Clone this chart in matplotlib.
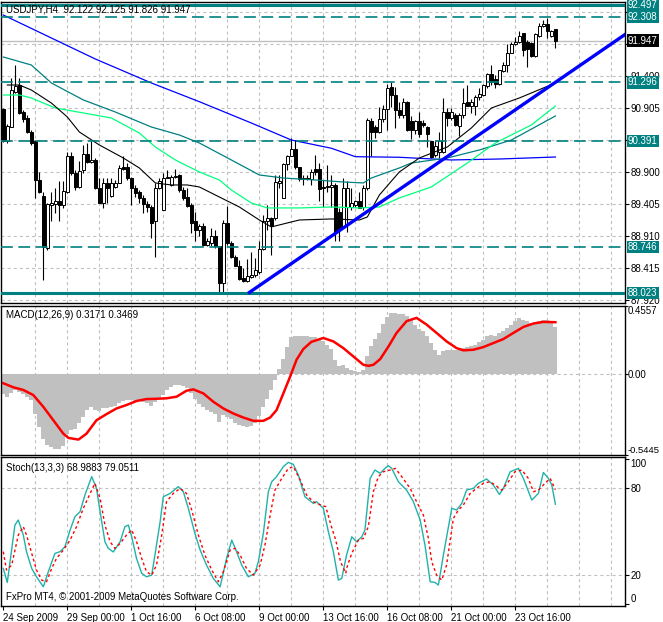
import numpy as np
import matplotlib.pyplot as plt

plt.rcParams['font.family'] = ['Liberation Sans', 'DejaVu Sans']
plt.rcParams['font.size'] = 7
plt.rcParams['lines.scale_dashes'] = False

W, H = 663, 622

# USDJPY H4 candles
bar_open = [90.88, 90.38, 90.61, 91.15, 91.26, 90.84, 90.75, 90.52, 90.38, 89.78,
            89.53, 88.72, 89.40, 89.41, 89.45, 89.40, 89.60, 90.16, 89.89, 89.68,
            89.93, 90.19, 90.06, 90.09, 89.65, 89.43, 89.73, 89.53, 89.67, 89.74,
            89.99, 89.99, 89.81, 89.66, 89.59, 89.51, 89.41, 89.36, 89.14, 89.65,
            89.31, 89.82, 89.71, 89.83, 89.86, 89.63, 89.52, 89.40, 89.14, 89.01,
            89.06, 88.77, 88.80, 88.91, 88.75, 88.19, 89.11, 88.80, 88.58, 88.45,
            88.26, 88.22, 88.27, 88.31, 88.36, 88.71, 89.15, 89.19, 89.19, 89.74,
            89.51, 90.03, 90.16, 90.26, 89.98, 89.79, 89.82, 89.79, 89.96, 89.96,
            89.68, 89.67, 89.68, 89.71, 89.29, 89.06, 89.37, 89.37, 89.40, 89.45,
            89.36, 89.65, 90.70, 90.61, 90.53, 90.73, 90.88, 91.23, 91.10, 90.87,
            90.79, 90.99, 90.70, 90.56, 90.70, 90.67, 90.60, 90.38, 90.17, 90.22,
            90.22, 90.84, 90.74, 90.79, 90.62, 90.79, 91.00, 90.93, 90.93, 91.07,
            91.10, 91.24, 91.43, 91.35, 91.28, 91.48, 91.57, 91.76, 91.90, 91.92,
            92.06, 91.93, 91.91, 91.70, 92.02, 92.17, 92.20, 92.02, 92.122]
bar_high = [90.90, 90.65, 91.36, 91.57, 91.36, 90.87, 90.79, 90.56, 90.40, 89.91,
            89.60, 89.42, 89.60, 89.65, 89.76, 89.76, 90.21, 90.22, 89.94, 90.07,
            90.33, 90.35, 90.39, 90.12, 89.81, 89.81, 89.81, 89.81, 89.78, 90.02,
            90.15, 90.04, 89.83, 89.71, 89.63, 89.55, 89.45, 89.40, 89.73, 89.81,
            89.89, 89.94, 89.86, 89.96, 89.87, 89.68, 89.65, 89.42, 89.29, 89.10,
            89.11, 88.88, 89.03, 89.01, 88.76, 89.16, 89.38, 88.83, 88.62, 88.54,
            88.41, 88.55, 88.67, 88.57, 88.83, 89.24, 89.39, 89.21, 89.86, 89.86,
            90.04, 90.17, 90.43, 90.40, 89.99, 89.86, 89.86, 89.96, 90.17, 90.04,
            89.78, 90.02, 89.86, 89.73, 89.34, 89.81, 89.76, 89.65, 89.47, 89.60,
            89.71, 90.74, 90.74, 90.64, 90.92, 90.95, 91.28, 91.31, 91.23, 91.00,
            91.05, 91.01, 90.78, 90.72, 90.84, 90.71, 90.62, 90.38, 90.38, 90.53,
            91.05, 90.90, 90.90, 90.82, 90.82, 91.21, 91.26, 91.04, 91.10, 91.21,
            91.28, 91.44, 91.57, 91.41, 91.49, 91.62, 91.90, 91.93, 92.01, 92.09,
            92.06, 91.96, 91.93, 92.06, 92.22, 92.27, 92.29, 92.11, 92.125]
bar_low = [90.37, 90.36, 90.60, 91.13, 90.81, 90.69, 90.51, 90.33, 89.50, 89.58,
           88.23, 88.70, 89.14, 89.27, 89.14, 89.34, 89.58, 89.86, 89.63, 89.65,
           89.89, 90.04, 90.04, 89.64, 89.42, 89.34, 89.42, 89.52, 89.65, 89.73,
           89.94, 89.78, 89.40, 89.52, 89.42, 89.27, 89.29, 88.88, 88.58, 89.64,
           89.31, 89.81, 89.69, 89.81, 89.60, 89.47, 89.37, 88.96, 88.83, 88.92,
           88.75, 88.76, 88.75, 88.72, 88.05, 88.023, 88.77, 88.57, 88.44, 88.23,
           88.20, 88.20, 88.26, 88.28, 88.33, 88.70, 89.01, 88.62, 89.16, 89.65,
           89.50, 89.94, 90.15, 89.96, 89.76, 89.71, 89.78, 89.71, 89.86, 89.45,
           89.37, 89.60, 89.37, 88.83, 88.83, 89.03, 88.98, 89.32, 89.37, 89.34,
           89.32, 89.63, 90.15, 90.43, 90.51, 90.69, 90.56, 90.92, 90.59, 90.75,
           90.74, 90.55, 90.42, 90.50, 90.45, 90.60, 90.30, 90.12, 90.14, 90.12,
           90.20, 90.62, 90.71, 90.62, 90.46, 90.74, 90.93, 90.82, 90.79, 91.03,
           91.08, 91.21, 91.26, 91.21, 91.26, 91.46, 91.46, 91.75, 91.88, 91.91,
           91.70, 91.54, 91.69, 91.69, 92.01, 92.16, 91.98, 92.01, 91.826]
bar_close = [90.38, 90.62, 91.18, 91.24, 90.82, 90.73, 90.52, 90.35, 89.78, 89.60,
             88.74, 89.41, 89.42, 89.45, 89.40, 89.61, 90.15, 89.89, 89.68, 89.92,
             90.19, 90.06, 90.09, 89.65, 89.43, 89.73, 89.66, 89.73, 89.74, 89.97,
             89.96, 89.81, 89.66, 89.58, 89.51, 89.41, 89.36, 89.12, 89.65, 89.76,
             89.81, 89.83, 89.83, 89.84, 89.63, 89.51, 89.38, 89.12, 89.01, 89.06,
             88.77, 88.83, 88.91, 88.75, 88.19, 89.11, 88.80, 88.58, 88.45, 88.24,
             88.22, 88.29, 88.31, 88.39, 88.71, 89.15, 89.19, 89.06, 89.75, 89.76,
             90.03, 90.16, 90.26, 89.98, 89.79, 89.82, 89.79, 89.91, 89.90, 89.64,
             89.65, 89.69, 89.71, 88.98, 89.01, 89.65, 89.65, 89.42, 89.45, 89.34,
             89.65, 90.71, 90.53, 90.52, 90.73, 90.88, 91.21, 91.10, 90.87, 90.79,
             90.99, 90.56, 90.56, 90.70, 90.50, 90.64, 90.50, 90.14, 90.31, 90.38,
             90.84, 90.74, 90.84, 90.64, 90.79, 90.98, 90.93, 91.00, 91.07, 91.12,
             91.26, 91.43, 91.31, 91.28, 91.49, 91.57, 91.76, 91.89, 91.93, 92.02,
             91.80, 91.81, 91.70, 92.05, 92.17, 92.21, 92.09, 92.09, 91.947]

# moving averages (bar index, price)
ma_blue_idx = [0, 23, 37, 49, 62, 72, 82, 88, 99, 112, 124, 138]
ma_blue_val = [92.344, 91.661, 91.289, 90.998, 90.667, 90.403, 90.275, 90.144, 90.135, 90.093, 90.108, 90.139]
ma_teal_idx = [0, 7, 12, 20, 28, 37, 44, 49, 57, 64, 70, 78, 85, 90, 92, 99, 102, 111, 119, 127, 138]
ma_teal_val = [91.692, 91.568, 91.289, 91.025, 90.838, 90.605, 90.481, 90.357, 90.093, 89.860, 89.813,
               89.782, 89.751, 89.736, 89.813, 89.969, 90.046, 90.124, 90.248, 90.403, 90.776]
ma_green_idx = [0, 4, 7, 13, 20, 27, 34, 38, 43, 49, 54, 57, 62, 66, 74, 82, 89, 94, 99, 107, 116, 123, 132, 138]
ma_green_val = [91.102, 91.102, 91.056, 90.900, 90.823, 90.745, 90.512, 90.295, 90.093, 89.907, 89.782, 89.627,
                89.425, 89.348, 89.348, 89.363, 89.348, 89.363, 89.503, 89.674, 90.046, 90.357, 90.636, 90.931]
ma_black_idx = [1, 4, 7, 12, 16, 19, 24, 30, 34, 38, 42, 46, 49, 54, 59, 64, 67, 71, 74, 82, 89, 91, 94, 99,
                104, 111, 117, 122, 129, 138]
ma_black_val = [91.257, 91.257, 91.180, 90.978, 90.761, 90.528, 90.326, 90.124, 89.969, 89.736, 89.705, 89.705,
                89.674, 89.518, 89.363, 89.161, 89.053, 89.115, 89.161, 89.177, 89.161, 89.208, 89.549, 89.907,
                90.124, 90.295, 90.590, 90.900, 91.056, 91.289]

# trend line anchors (bar index, price)
trend_idx = [61.2, 155.7]
trend_val = [88.023, 92.054]

levels_solid = [92.497, 88.023]
levels_dashed = [92.308, 91.296, 90.391, 88.746]
bid = 91.947

price_ticks = [87.920, 88.415, 88.910, 89.405, 89.900, 90.400, 90.905, 91.400, 91.900, 92.390]
price_labels = ['87.920', '88.415', '88.910', '89.405', '89.900', '', '90.905', '91.400', '', '']

# MACD(12,26,9) histogram per bar
macd_main = [-0.137, -0.158, -0.131, -0.108, -0.119, -0.135, -0.153, -0.176, -0.266, -0.356,
             -0.435, -0.480, -0.491, -0.502, -0.502, -0.486, -0.401, -0.378, -0.367, -0.333,
             -0.288, -0.243, -0.225, -0.243, -0.248, -0.232, -0.232, -0.221, -0.216, -0.198,
             -0.180, -0.176, -0.176, -0.180, -0.180, -0.187, -0.194, -0.216, -0.187, -0.171,
             -0.142, -0.108, -0.090, -0.077, -0.074, -0.081, -0.097, -0.131, -0.171, -0.203,
             -0.221, -0.243, -0.255, -0.266, -0.322, -0.277, -0.288, -0.300, -0.329, -0.345,
             -0.351, -0.356, -0.351, -0.333, -0.284, -0.225, -0.171, -0.108, -0.041, 0.032,
             0.099, 0.180, 0.248, 0.257, 0.252, 0.252, 0.252, 0.248, 0.248, 0.230,
             0.218, 0.196, 0.167, 0.095, 0.054, 0.059, 0.038, 0.027, 0.020, 0.016,
             0.027, 0.122, 0.185, 0.234, 0.275, 0.338, 0.381, 0.410, 0.410, 0.405,
             0.399, 0.387, 0.365, 0.331, 0.302, 0.286, 0.252, 0.207, 0.162, 0.128,
             0.151, 0.158, 0.162, 0.162, 0.158, 0.173, 0.180, 0.185, 0.196, 0.212,
             0.230, 0.252, 0.264, 0.257, 0.275, 0.286, 0.309, 0.331, 0.358, 0.372,
             0.365, 0.354, 0.342, 0.347, 0.354, 0.365, 0.360, 0.354, 0.3171]
macd_sig_idx = [0, 2.5, 5, 7.5, 10, 12.5, 15, 16.3, 18.8, 20.8, 23.3, 25.8, 28.3, 30.8, 33.3, 35.8,
                38.3, 40.8, 43.3, 45.8, 47.5, 50, 52.5, 55, 57.5, 60, 62.5, 65, 66.7, 68.3, 70,
                71.7, 73.3, 75, 77, 80, 82.5, 85, 87.5, 90, 91.3, 92.5, 94.2, 96.3, 98.3, 100.8,
                103.3, 105.8, 108.3, 110.8, 113.3, 115, 117.5, 120, 122.5, 125, 127.5, 130,
                132.5, 135, 138]
macd_sig_val = [-0.063, -0.090, -0.108, -0.142, -0.221, -0.311, -0.401, -0.430, -0.441, -0.401,
                -0.311, -0.270, -0.232, -0.209, -0.182, -0.169, -0.167, -0.164, -0.153, -0.113,
                -0.104, -0.131, -0.187, -0.232, -0.266, -0.293, -0.315, -0.315, -0.293, -0.243,
                -0.131, -0.018, 0.095, 0.167, 0.215, 0.241, 0.218, 0.173, 0.117, 0.061, 0.054,
                0.061, 0.099, 0.185, 0.275, 0.354, 0.376, 0.331, 0.275, 0.218, 0.173, 0.158,
                0.162, 0.180, 0.207, 0.234, 0.275, 0.315, 0.338, 0.349, 0.3469]

# Stoch(13,3,3)
stoch_main_idx = [0, 1, 2.9, 3.75, 5, 5.8, 7.1, 8.3, 10, 11.25, 12.9, 14.2, 15.4, 16.7, 17.9, 19.2, 20.4,
                  22.1, 23.3, 24.2, 25.4, 26.25, 27.5, 29.2, 30.4, 31.25, 32.1, 33.3, 34.6, 35.8, 37.1,
                  37.9, 39.2, 40, 41.7, 43.75, 45, 46.25, 47.9, 49.2, 50.8, 52.5, 54.2, 55.8, 57.1,
                  58.3, 59.6, 61.25, 62.9, 63.75, 65, 66.25, 67.1, 68.3, 70, 71.25, 72.5, 73.75, 75.4,
                  77.5, 78.3, 80, 81.25, 82.5, 83.75, 84.6, 85.8, 87.1, 88.3, 89.6, 90.4, 91.7, 92.9,
                  94.2, 95.4, 96.25, 97.1, 98.75, 100.8, 102.5, 104.2, 105.4, 106.7, 107.9, 108.75,
                  110, 112.1, 113.3, 114.6, 115.8, 117.5, 118.75, 120.8, 122.5, 124, 125, 126.7,
                  128.75, 130, 132.1, 133.75, 135, 136.25, 137.1, 138]
stoch_main_val = [24.6, 14.9, 54.6, 58.1, 47.7, 36.2, 24.6, 18.8, 11.9, 22.3, 35.0, 36.2, 39.6, 51.2, 60.4,
                  63.9, 75.4, 88.1, 80.0, 63.9, 43.1, 38.5, 36.0, 43.1, 53.5, 54.6, 46.5, 31.5, 21.2,
                  18.8, 20.0, 33.8, 56.9, 74.2, 76.5, 81.2, 77.7, 66.2, 48.8, 37.3, 26.9, 17.7, 11.9,
                  31.5, 44.2, 36.2, 26.9, 18.8, 21.2, 29.2, 48.8, 77.7, 84.6, 88.1, 95.0, 98.0, 96.6,
                  89.2, 74.2, 69.6, 70.8, 66.2, 50.0, 36.2, 16.5, 17.7, 33.8, 46.5, 43.1, 46.5, 51.2,
                  86.9, 92.7, 90.4, 93.8, 95.7, 93.8, 84.6, 78.8, 70.8, 58.1, 40.8, 15.4, 14.9, 13.1,
                  33.8, 66.2, 65.0, 69.6, 78.8, 80.0, 83.5, 86.5, 82.3, 75.8, 80.0, 91.5, 93.8, 86.9,
                  71.9, 76.5, 91.0, 86.9, 82.3, 68.99]
stoch_sig_idx = [0, 0.8, 2.1, 3.75, 5, 5.8, 7.1, 8.3, 9.6, 10.8, 12.1, 13.3, 15, 16.7, 18.3, 20, 21.7,
                 22.9, 24.2, 25.4, 26.7, 27.9, 29.2, 30.8, 32.1, 33.3, 34.6, 35.8, 37.1, 38.3, 39.6,
                 40.8, 42.5, 44.2, 45.8, 47.1, 48.75, 50.4, 52.1, 53.75, 55, 56.7, 57.9, 59.2, 60.8,
                 62.5, 64.2, 65.4, 66.7, 67.9, 69.6, 71.25, 72.5, 74.2, 75.8, 77.5, 78.3, 80.6, 81.9,
                 83.1, 84.3, 85.6, 85.8, 87.1, 88.75, 90, 91.25, 92.5, 93.75, 95, 96.7, 98, 99.6,
                 101.7, 103.3, 105, 106.25, 107.1, 108.3, 109.6, 110.8, 112.5, 113.75, 115, 116.7,
                 118.3, 120, 121.7, 122.9, 124.6, 126.25, 127.9, 129.6, 131.25, 132.5, 133.75,
                 135.4, 136.7, 138]
stoch_sig_val = [36.2, 23.5, 26.9, 47.7, 53.5, 47.7, 35.0, 23.5, 16.5, 15.4, 24.6, 31.5, 37.3, 44.2, 53.5,
                 66.2, 76.5, 83.5, 73.1, 54.6, 43.1, 38.5, 41.9, 47.7, 51.2, 43.1, 31.5, 22.3, 20.0,
                 26.9, 47.7, 70.8, 76.5, 80.0, 76.5, 65.0, 47.7, 33.8, 23.5, 15.4, 22.3, 37.3, 38.5,
                 33.8, 24.6, 20.0, 26.9, 40.8, 61.5, 78.8, 86.9, 93.8, 95.0, 85.8, 75.4, 70.8, 69.6,
                 67.3, 54.6, 44.2, 29.2, 21.2, 24.6, 35.0, 44.2, 45.4, 53.5, 77.7, 88.1, 91.5, 92.7,
                 93.8, 88.1, 80.0, 70.8, 61.5, 45.4, 29.2, 20.0, 16.5, 26.9, 59.2, 65.0, 68.5, 76.5,
                 80.0, 83.5, 84.6, 82.3, 78.8, 84.6, 91.5, 92.7, 86.9, 77.7, 78.8, 83.5, 86.9, 79.05]

date_labels = ['24 Sep 2009', '29 Sep 00:00', '1 Oct 16:00', '6 Oct 08:00', '9 Oct 00:00',
               '13 Oct 16:00', '16 Oct 08:00', '21 Oct 00:00', '23 Oct 16:00']

TEAL = '#008080'
GRID = '#c0c0c0'
n = len(bar_close)
x = np.arange(n)

fig = plt.figure(figsize=(W / 100, H / 100), dpi=100)
fig.patch.set_facecolor('white')


def px_axes(x0, y0, x1, y1):
    return fig.add_axes([x0 / W, 1 - y1 / H, (x1 - x0) / W, (y1 - y0) / H])


def ptext(px, py, s, **kw):
    fig.text(px / W, 1 - py / H, s, va='center', ha='left', **kw)


def setup(ax):
    ax.set_xlim(-0.575, 155.4)
    for sp in ax.spines.values():
        sp.set_color('black')
        sp.set_linewidth(1)
    ax.yaxis.tick_right()
    ax.tick_params(axis='y', length=3, pad=1, width=0.8, labelsize=7)
    ax.tick_params(axis='x', length=0, labelbottom=False)
    for i in range(8, 156, 8):
        ax.axvline(i, color=GRID, lw=0.8, ls=(0, (2.2, 2.2)), zorder=0)


# ---------- price panel ----------
ax = px_axes(1, 2, 625, 303)
setup(ax)
ax.set_ylim(87.872, 92.546)
ax.set_yticks(price_ticks)
ax.set_yticklabels(price_labels)
for p in price_ticks:
    ax.axhline(p, color=GRID, lw=0.8, ls=(0, (2.2, 2.2)), zorder=0)
ax.axhline(bid, color=GRID, lw=1, zorder=1)

o = np.array(bar_open)
c = np.array(bar_close)
ax.vlines(x, bar_low, bar_high, color='black', lw=0.8, zorder=2)
body_col = np.where(c < o, 'black', 'white')
body_h = np.maximum(np.abs(c - o), 0.008)
ax.bar(x, body_h, bottom=np.minimum(o, c), width=0.75, color=body_col,
       edgecolor='black', lw=0.7, zorder=3)

ax.plot(ma_blue_idx, ma_blue_val, color='#0000ff', lw=0.9, zorder=4)
ax.plot(ma_teal_idx, ma_teal_val, color=TEAL, lw=0.9, zorder=4)
ax.plot(ma_green_idx, ma_green_val, color='#00ff7f', lw=0.9, zorder=4)
ax.plot(ma_black_idx, ma_black_val, color='black', lw=0.8, zorder=4)

for lv in levels_solid:
    ax.axhline(lv, color=TEAL, lw=2.2, zorder=5)
for lv in levels_dashed:
    ax.axhline(lv, color=TEAL, lw=1.2, ls=(0, (8.5, 4)), zorder=5)
ax.plot(trend_idx, trend_val, color='#0000ff', lw=2.4, zorder=6, solid_capstyle='butt')

for lv in levels_solid + levels_dashed:
    ax.annotate('%.3f' % lv, xy=(1, lv), xycoords=('axes fraction', 'data'),
                xytext=(3, 0), textcoords='offset pixels', va='center', ha='left',
                color='white', fontsize=7, annotation_clip=False,
                bbox=dict(boxstyle='square,pad=0.12', fc=TEAL, ec='none'))
ax.annotate('%.3f' % bid, xy=(1, bid), xycoords=('axes fraction', 'data'),
            xytext=(3, 0), textcoords='offset pixels', va='center', ha='left',
            color='white', fontsize=7, annotation_clip=False,
            bbox=dict(boxstyle='square,pad=0.12', fc='black', ec='none'))

# ---------- MACD panel ----------
am = px_axes(1, 306, 625, 455)
setup(am)
am.set_ylim(-0.5445, 0.4557)
am.axhline(0, color=GRID, lw=0.8, ls=(0, (2.2, 2.2)), zorder=0)
am.bar(x, macd_main, width=1.0, color='#c0c0c0', lw=0, zorder=1)
am.plot(macd_sig_idx, macd_sig_val, color='#ff0000', lw=1.8, zorder=2)
am.set_yticks([-0.5445, 0.0, 0.4557])
am.set_yticklabels(['-0.5445', '0.00', '0.4557'])
am.tick_params(axis='y', length=2, pad=0)
lbls = am.get_yticklabels()
lbls[0].set_va('bottom')
lbls[0].set_fontsize(6.8)
lbls[2].set_va('top')

# ---------- Stochastic panel ----------
ast = px_axes(1, 457, 625, 606)
setup(ast)
ast.set_ylim(-1.4, 101.7)
for lv in (20, 80):
    ast.axhline(lv, color=GRID, lw=0.8, ls=(0, (2.2, 2.2)), zorder=0)
ast.plot(stoch_main_idx, stoch_main_val, color='#20b2aa', lw=1.0, zorder=2)
ast.plot(stoch_sig_idx, stoch_sig_val, color='#ff0000', lw=1.0, ls=(0, (2, 2)), zorder=3)
ast.set_yticks([0, 20, 80, 100])
ast.set_yticklabels(['0', '20', '80', '100'])
sl = ast.get_yticklabels()
sl[0].set_va('bottom')
sl[3].set_va('top')
ast.set_xticks(range(0, 129, 16))
ast.set_xticklabels(date_labels, ha='left')
ast.tick_params(axis='x', length=3, width=0.8, pad=2, labelbottom=True, labelsize=7)

ptext(6, 10, 'USDJPY,H4  92.122 92.125 91.826 91.947', fontsize=7)
ptext(6, 315, 'MACD(12,26,9) 0.3171 0.3469', fontsize=7)
ptext(6, 468, 'Stoch(13,3,3) 68.9883 79.0511', fontsize=7)
ptext(6, 597, 'FxPro MT4, \u00a9 2001-2009 MetaQuotes Software Corp.', fontsize=7)

fig.savefig('out.png', dpi=100)
